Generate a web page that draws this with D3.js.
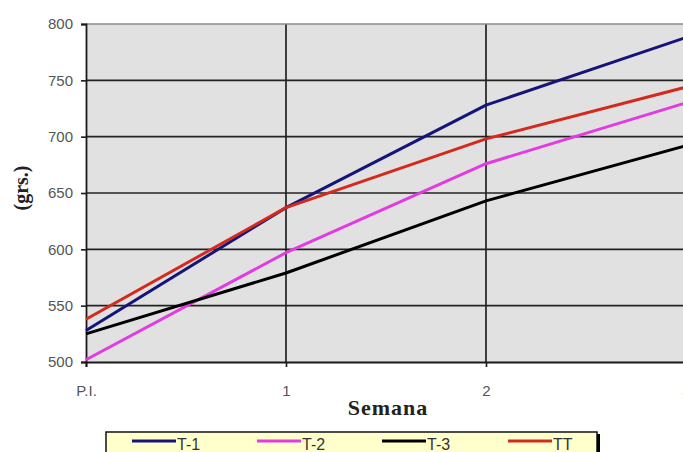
<!DOCTYPE html>
<html>
<head>
<meta charset="utf-8">
<script src="https://cdn.jsdelivr.net/npm/d3@7"></script>
<style>
  html, body { margin: 0; padding: 0; background: #fff; }
  svg { display: block; }
</style>
</head>
<body>
<svg id="chart" width="683" height="452"></svg>
<script>
// Weekly weight (grs.) per treatment
const weeks = ["P.I.", "1", "2", "3"];
const yTicks = [500, 550, 600, 650, 700, 750, 800];
const seriesNames = ["T-1", "T-2", "T-3", "TT"];
const seriesColors = ["#14147a", "#e23be2", "#000000", "#d42a1e"];
const t1 = [528, 637, 728, 788];
const t2 = [502, 597, 676, 730];
const t3 = [525, 579, 643, 692];
const tt = [538, 637, 698, 744];

const seriesValues = [t1, t2, t3, tt];
const series = seriesNames.map((name, i) => ({
  name, color: seriesColors[i],
  values: seriesValues[i].map((v, j) => ({ week: weeks[j], v }))
}));

const svg = d3.select("#chart");
const plot = { left: 86, top: 24, right: 686, bottom: 362 };

const x = d3.scalePoint().domain(weeks).range([plot.left, plot.right]);
const y = d3.scaleLinear().domain([500, 800]).range([plot.bottom, plot.top]);

// plot background
svg.append("rect")
  .attr("x", plot.left).attr("y", plot.top)
  .attr("width", plot.right - plot.left).attr("height", plot.bottom - plot.top)
  .attr("fill", "#e1e1e1");

// grid lines
svg.append("g")
  .selectAll("line.h")
  .data(yTicks.filter(d => d > 500 && d < 800))
  .join("line")
  .attr("x1", plot.left).attr("x2", plot.right)
  .attr("y1", d => y(d)).attr("y2", d => y(d))
  .attr("stroke", "#222").attr("stroke-width", 1.7);

svg.append("g")
  .selectAll("line.v")
  .data(weeks.slice(1))
  .join("line")
  .attr("x1", d => x(d)).attr("x2", d => x(d))
  .attr("y1", plot.top).attr("y2", plot.bottom)
  .attr("stroke", "#222").attr("stroke-width", 1.7);

// top border
svg.append("line")
  .attr("x1", plot.left).attr("x2", plot.right)
  .attr("y1", y(800)).attr("y2", y(800))
  .attr("stroke", "#8a8a8a").attr("stroke-width", 1.5);

// axes
const yAxis = d3.axisLeft(y).tickValues(yTicks).tickSize(5).tickPadding(8).tickFormat(d3.format("d"));
const gy = svg.append("g").attr("transform", `translate(${plot.left},0)`).call(yAxis);
const xAxis = d3.axisBottom(x).tickSize(5).tickPadding(18);
const gx = svg.append("g").attr("transform", `translate(0,${plot.bottom})`).call(xAxis);

[gy, gx].forEach(g => {
  g.select(".domain").attr("stroke", "#1a1a1a").attr("stroke-width", 1.8);
  g.selectAll(".tick line").attr("stroke", "#1a1a1a").attr("stroke-width", 1.6);
  g.selectAll(".tick text")
    .attr("fill", "#555")
    .style("font-family", "'Liberation Sans', Arial, sans-serif")
    .style("font-size", "15px");
});

// series lines
const line = d3.line().x(d => x(d.week)).y(d => y(d.v));
svg.append("g")
  .selectAll("path")
  .data(series)
  .join("path")
  .attr("d", d => line(d.values))
  .attr("fill", "none")
  .attr("stroke", d => d.color)
  .attr("stroke-width", 3)
  .attr("stroke-linejoin", "round");

// axis titles
svg.append("text")
  .attr("x", 388).attr("y", 415)
  .attr("text-anchor", "middle")
  .style("font-family", "'Liberation Serif', 'Times New Roman', serif")
  .style("font-weight", "bold")
  .style("font-size", "22px")
  .style("letter-spacing", "1px")
  .attr("fill", "#222")
  .text("Semana");

svg.append("text")
  .attr("transform", "translate(28,188) rotate(-90)")
  .attr("text-anchor", "middle")
  .style("font-family", "'Liberation Serif', 'Times New Roman', serif")
  .style("font-weight", "bold")
  .style("font-size", "20px")
  .attr("fill", "#222")
  .text("(grs.)");

// legend
const legend = svg.append("g");
legend.append("rect")
  .attr("x", 106).attr("y", 432)
  .attr("width", 491).attr("height", 30)
  .attr("fill", "#ffffcc")
  .attr("stroke", "#111").attr("stroke-width", 1.5);
legend.append("line")
  .attr("x1", 598.5).attr("x2", 598.5)
  .attr("y1", 434).attr("y2", 452)
  .attr("stroke", "#000").attr("stroke-width", 3);

const legendX = [132, 257, 382, 508];
const items = legend.selectAll("g.item")
  .data(series)
  .join("g")
  .attr("transform", (d, i) => `translate(${legendX[i]},441)`);
items.append("line")
  .attr("x1", 0).attr("x2", 44)
  .attr("stroke", d => d.color).attr("stroke-width", 3);
items.append("text")
  .attr("x", 45).attr("y", 9)
  .style("font-family", "'Liberation Sans', Arial, sans-serif")
  .style("font-size", "16px")
  .attr("fill", "#333")
  .text(d => d.name);
</script>
</body>
</html>
